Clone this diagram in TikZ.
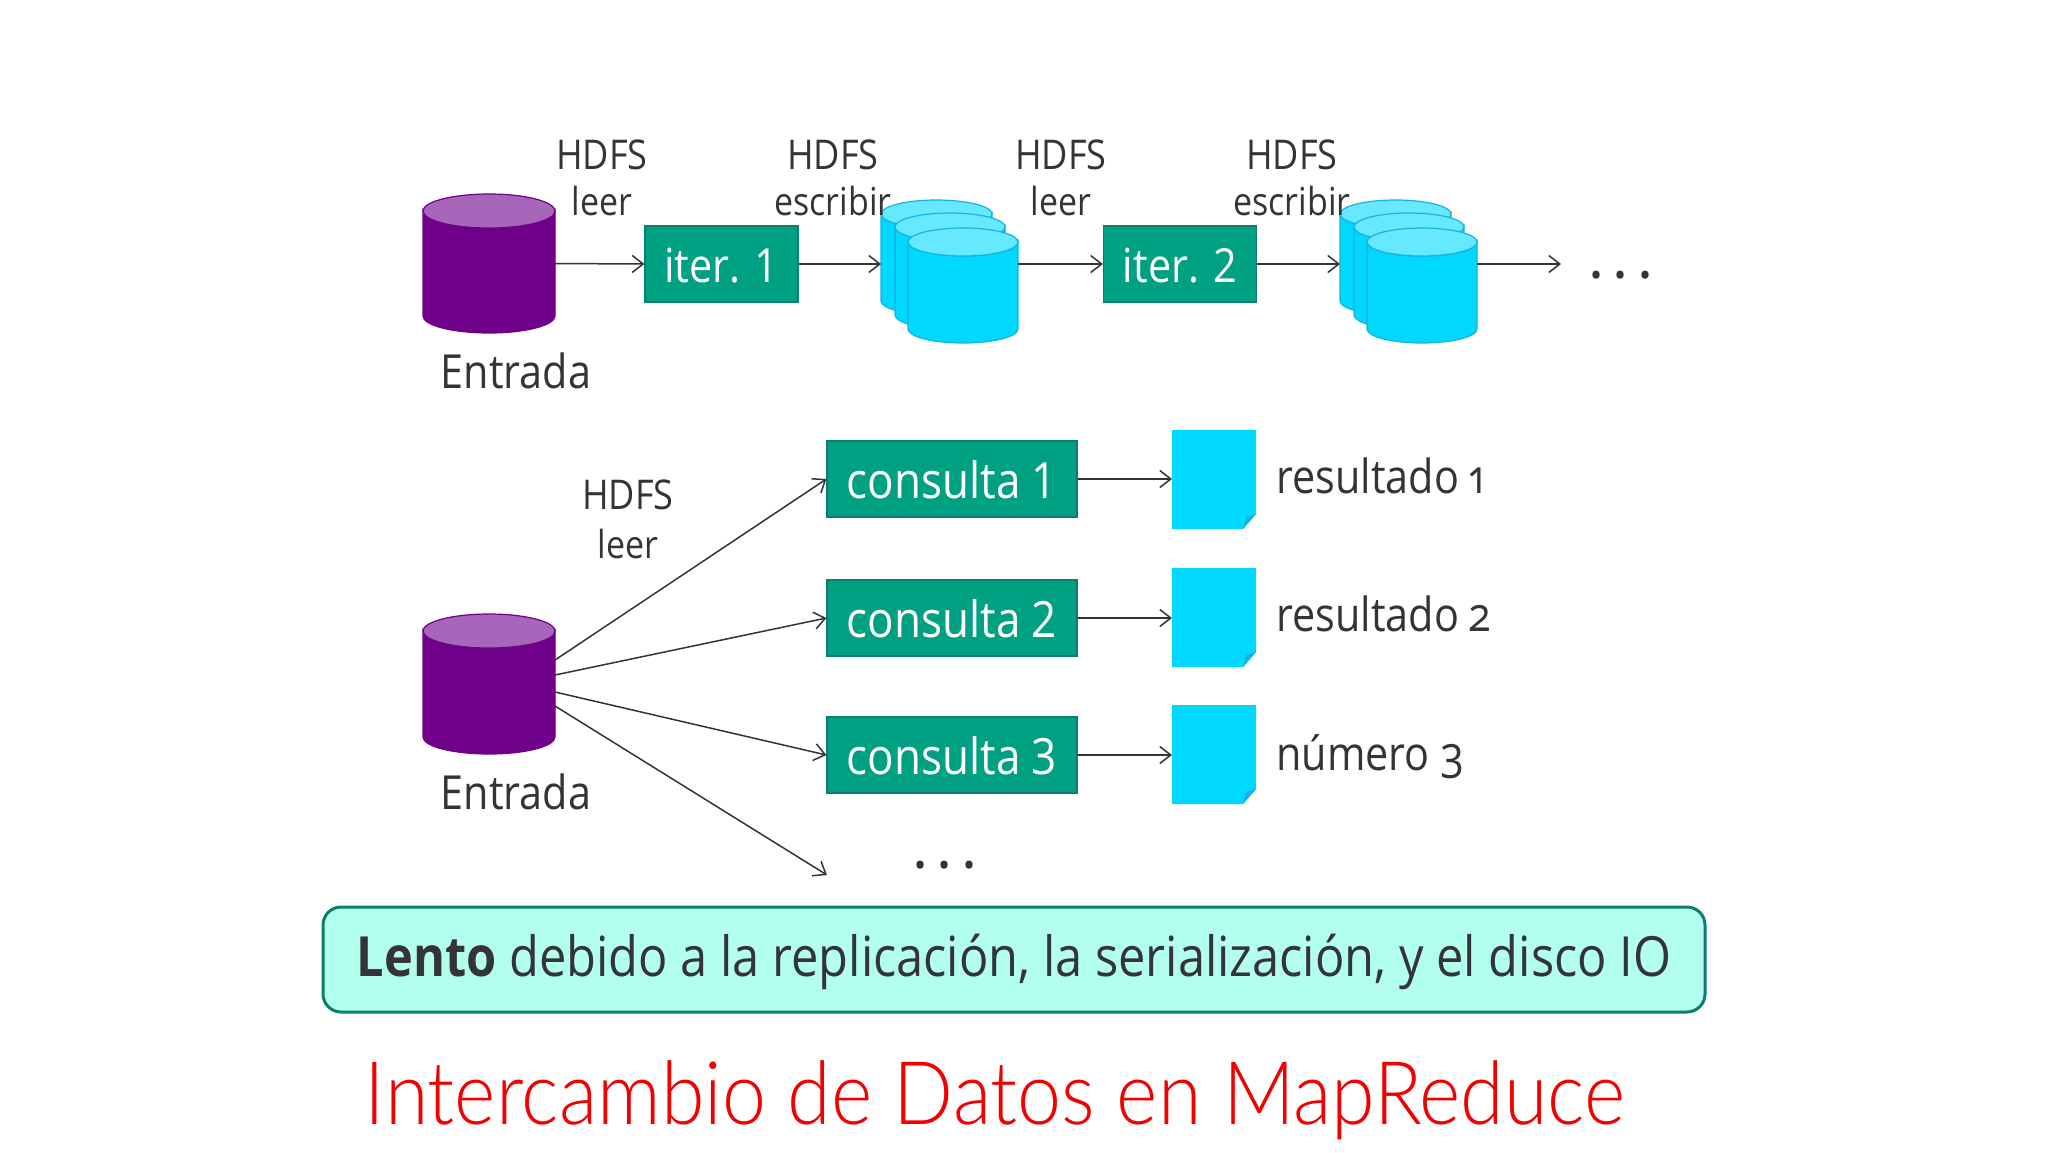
\documentclass[tikz,border=0pt]{standalone}
\usepackage{fontspec}
\setmainfont{Open Sans}[FakeStretch=0.88]
\newfontfamily\lightfont{Lato Light}[FakeStretch=0.9]
\usetikzlibrary{arrows.meta,fit,calc}
\definecolor{ink}{HTML}{333338}
\definecolor{boxgreen}{HTML}{00A082}
\definecolor{boxedge}{HTML}{0C7D6E}
\definecolor{mint}{HTML}{B2FFF0}
\definecolor{pcyan}{HTML}{00D8FF}
\definecolor{pcap}{HTML}{66E8FF}
\definecolor{pedge}{HTML}{14B4E0}
\definecolor{purp}{HTML}{6F008A}
\definecolor{purpcap}{HTML}{A766B9}
\definecolor{titlered}{HTML}{F00000}
\newcommand{\threedots}{.\hspace{6pt}.\hspace{6pt}.}
\newcommand{\lowertext}[2]{\raisebox{-#1}[\height][\depth]{#2}}
\tikzset{
  x=0.5pt,y=-0.5pt,
  flow/.style={draw=ink,line width=0.75pt,-{Straight Barb[length=5.5pt,width=8.5pt,line width=0.75pt]}},
  greenbox/.style={draw=boxedge,fill=boxgreen,line width=0.6pt,text=white,inner sep=0pt},
  itertext/.style={font=\fontsize{23.5}{26}\selectfont},
  querytext/.style={font=\fontsize{25}{28}\selectfont},
  label/.style={text=ink,inner sep=0pt,font=\fontsize{20.5}{24}\selectfont},
  sublabel/.style={text=ink,inner sep=0pt,font=\fontsize{19.3}{24}\selectfont},
  biglabel/.style={text=ink,inner sep=0pt,font=\fontsize{23.5}{28}\selectfont},
  dotsmark/.style={text=ink,inner sep=0pt,font=\bfseries\fontsize{24}{30}\selectfont},
  ghost/.style={inner sep=0pt,outer sep=0pt},
}
\newcommand{\cyl}[9]{%
  \pgfmathsetmacro{\rx}{(#4-#2)/4}%
  \pgfmathsetmacro{\ry}{#6/2}%
  \pgfmathsetmacro{\cx}{(#2+#4)/2}%
  \draw[draw=#9,line width=0.6pt,fill=#7] (#2,#3+#6) -- (#2,#5-#6) arc[start angle=180,end angle=360,x radius=\rx pt,y radius=\ry pt] -- (#4,#3+#6) arc[start angle=0,end angle=-180,x radius=\rx pt,y radius=\ry pt] -- cycle;
  \draw[draw=#9,line width=0.6pt,fill=#8] (\cx,#3+#6) ellipse[x radius=\rx pt,y radius=\ry pt];
  \node[ghost,fit={(#2,#3)(#4,#5)}] (#1) {};
}
\newcommand{\docu}[5]{%
  \fill[pcyan] (#2,#3) -- (#4,#3) -- (#4,#5-15) -- (#4-13,#5) -- (#2,#5) -- cycle;
  \fill[pedge] (#4,#5-15) -- (#4-13,#5) -- (#4-10,#5-12) -- cycle;
  \node[ghost,fit={(#2,#3)(#4,#5)}] (#1) {};
}
\begin{document}
\begin{tikzpicture}
\useasboundingbox (0,0) rectangle (2048,1152);
\fill[white] (0,0) rectangle (2048,1152);
% top row
\cyl{inA}{423}{194}{555}{333}{17}{purp}{purpcap}{purp}
\node[greenbox,itertext,minimum width=76.5pt,minimum height=38pt] (iterA) at (721.5,264) {\lowertext{0.7pt}{iter. 1}};
\cyl{sAa}{881}{200}{992}{315}{14}{pcyan}{pcap}{pedge}
\cyl{sAb}{895}{213}{1005}{329}{14}{pcyan}{pcap}{pedge}
\cyl{sAc}{908}{228}{1018}{343}{14}{pcyan}{pcap}{pedge}
\node[greenbox,itertext,minimum width=76.5pt,minimum height=38pt] (iterB) at (1180,264) {\lowertext{0.7pt}{iter. 2}};
\cyl{sBa}{1340}{200}{1451}{315}{14}{pcyan}{pcap}{pedge}
\cyl{sBb}{1354}{213}{1464}{329}{14}{pcyan}{pcap}{pedge}
\cyl{sBc}{1367}{228}{1477}{343}{14}{pcyan}{pcap}{pedge}
\coordinate (endA) at (1561,264);
\node[dotsmark] (dotsA) at (1621,275) {\threedots};
\foreach \n/\x/\t in {la/602/leer,lb/833/escribir,lc/1061/leer,ld/1292/escribir}{
  \node[label] (\n h) at (\x,155) {HDFS};
  \node[sublabel] (\n t) at (\x,201) {\t};
}
\node[biglabel] (entA) at (516,371) {Entrada};
\draw[flow] (inA.east) -- (iterA.west);
\draw[flow] (iterA.east) -- (iterA.east -| sAa.west);
\draw[flow] (iterA.east -| sAc.east) -- (iterB.west);
\draw[flow] (iterB.east) -- (iterB.east -| sBa.west);
\draw[flow] (iterB.east -| sBc.east) -- (endA);
% bottom row
\cyl{inB}{423}{614}{555}{754}{17}{purp}{purpcap}{purp}
\node[biglabel] (entB) at (516,792) {Entrada};
\node[label] (lh) at (628,495) {HDFS};
\node[sublabel] (lt) at (628,544) {leer};
\foreach \n/\y/\t in {qa/479/consulta 1,qb/618/consulta 2,qc/755/consulta 3}{
  \node[greenbox,querytext,minimum width=125pt,minimum height=38pt] (\n) at (952,\y) {\lowertext{0.5pt}{\t}};
}
\docu{da}{1172}{430}{1256}{529}{}
\docu{db}{1172}{568}{1256}{667}{}
\docu{dc}{1172}{705}{1256}{804}{}
\foreach \q/\d in {qa/da,qb/db,qc/dc}{
  \draw[flow] (\q.east) -- (\q.east -| \d.west);
}
\node[biglabel,anchor=west] (ra) at (1276,476) {resultado \addfontfeature{Numbers=OldStyle}1};
\node[biglabel,anchor=west] (rb) at (1276,614) {resultado \addfontfeature{Numbers=OldStyle}2};
\node[biglabel,anchor=west] (rc) at (1276,757) {número \addfontfeature{Numbers=OldStyle}3};
\coordinate (qd) at (827,875);
\draw[flow] ($(inB.east)+(0,-24)$) -- (qa.west);
\draw[flow] ($(inB.east)+(0,-9)$) -- (qb.west);
\draw[flow] ($(inB.east)+(0,8)$) -- (qc.west);
\draw[flow] ($(inB.east)+(0,22)$) -- (qd);
\node[dotsmark] (dotsB) at (945,865) {\threedots};
% banner
\node[draw=boxedge,fill=mint,line width=1.5pt,rounded corners=9pt,minimum width=691pt,minimum height=52.5pt,inner sep=0pt,text=ink,font=\fontsize{27.7}{32}\selectfont] (banner) at (1014,959.5) {\lowertext{1.3pt}{\textbf{Lento} debido a la replicación, la serialización, y el disco IO}};
\node[inner sep=0pt,text=titlered,font=\lightfont\fontsize{43.9}{50}\selectfont] (title) at (995,1100) {Intercambio de Datos en MapReduce};
\end{tikzpicture}
\end{document}
